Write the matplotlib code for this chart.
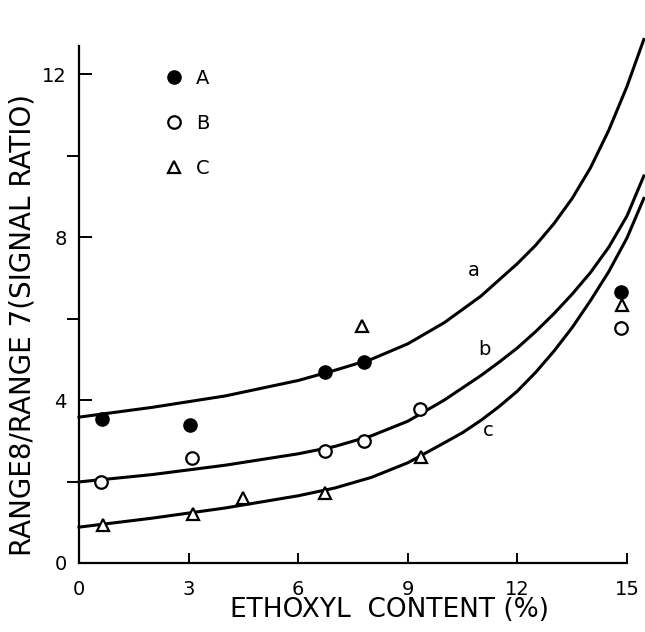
import matplotlib
matplotlib.use("Agg")
import matplotlib.pyplot as plt

a_x = [0.62, 3.05, 6.72, 7.80, 14.83]
a_y = [3.53, 3.39, 4.69, 4.93, 6.66]
b_x = [0.60, 3.08, 6.74, 7.81, 9.34, 14.83]
b_y = [1.98, 2.58, 2.76, 3.00, 3.77, 5.78]
c_x = [0.66, 3.11, 4.49, 6.74, 7.75, 9.36, 14.86]
c_y = [0.93, 1.20, 1.59, 1.71, 5.82, 2.61, 6.33]

# ---- fitted curves a, b, c ----
ca_x = [0, 2, 4, 6, 7, 8, 9, 10, 11, 12, 12.5, 13, 13.5, 14, 14.5, 15, 15.46]
ca_y = [3.58, 3.82, 4.10, 4.48, 4.73, 5.00, 5.38, 5.90, 6.55, 7.35, 7.80,
        8.33, 8.95, 9.70, 10.62, 11.70, 12.85]
cb_x = [0, 2, 4, 6, 7, 8, 9, 10, 11, 11.5, 12, 12.5, 13, 13.5, 14, 14.5,
        15, 15.46]
cb_y = [1.99, 2.17, 2.40, 2.68, 2.86, 3.12, 3.48, 4.00, 4.60, 4.93, 5.28,
        5.68, 6.12, 6.60, 7.13, 7.75, 8.52, 9.50]
cc_x = [0, 2, 4, 6, 7, 8, 9, 10, 10.5, 11, 11.5, 12, 12.5, 13, 13.5, 14,
        14.5, 15, 15.46]
cc_y = [0.88, 1.10, 1.35, 1.65, 1.84, 2.10, 2.46, 2.95, 3.20, 3.50, 3.84,
        4.22, 4.68, 5.20, 5.78, 6.44, 7.15, 7.98, 8.95]
curve_labels = ["a", "b", "c"]
curve_label_pos = [(10.82, 7.19), (11.09, 5.25), (11.20, 3.26)]

xticks = [0, 3, 6, 9, 12, 15]
yticks = [0, 4, 8, 12]
yminor = [2, 6, 10]

plt.rcParams["font.family"] = ["DejaVu Sans"]
fig = plt.figure(figsize=(6.45, 6.32), dpi=100)
ax = fig.add_axes([0.1225, 0.1092, 0.8496, 0.818])

for xs, ys in ((ca_x, ca_y), (cb_x, cb_y), (cc_x, cc_y)):
    ax.plot(xs, ys, color="black", lw=2.2, clip_on=False, zorder=2,
            solid_joinstyle="round")

ax.plot(a_x, a_y, "o", ms=9.5, mfc="black", mec="black", ls="none",
        clip_on=False, zorder=3, label="A")
ax.plot(b_x, b_y, "o", ms=9, mfc="white", mec="black", mew=1.6, ls="none",
        clip_on=False, zorder=3, label="B")
ax.plot(c_x, c_y, "^", ms=9, mfc="white", mec="black", mew=1.6, ls="none",
        clip_on=False, zorder=3, label="C")

for t, (x, y) in zip(curve_labels, curve_label_pos):
    ax.text(x, y, t, fontsize=14, ha="center", va="center")

ax.legend(loc="upper left", bbox_to_anchor=(0.141, 0.975), frameon=False,
          fontsize=14, handlelength=0.8, handletextpad=0.75, labelspacing=1.35,
          borderpad=0)

ax.set_xlim(0, 15)
ax.set_ylim(0, 12.69)
ax.set_xticks(xticks)
ax.set_yticks(yticks)
ax.set_yticks(yminor, minor=True)
ax.tick_params(axis="both", direction="in", width=1.4, labelsize=14)
ax.tick_params(axis="x", length=7, pad=12)
ax.tick_params(axis="y", which="both", length=9, width=1.4, pad=9)
for sp in ("top", "right"):
    ax.spines[sp].set_visible(False)
for sp in ("left", "bottom"):
    ax.spines[sp].set_linewidth(1.6)

ax.set_xlabel("ETHOXYL  CONTENT (%)", fontsize=19)
ax.xaxis.set_label_coords(0.567, -0.066)
ax.set_ylabel("RANGE8/RANGE 7(SIGNAL RATIO)", fontsize=20)
ax.yaxis.set_label_coords(-0.078, 0.46)

fig.savefig("out.png", dpi=100)
